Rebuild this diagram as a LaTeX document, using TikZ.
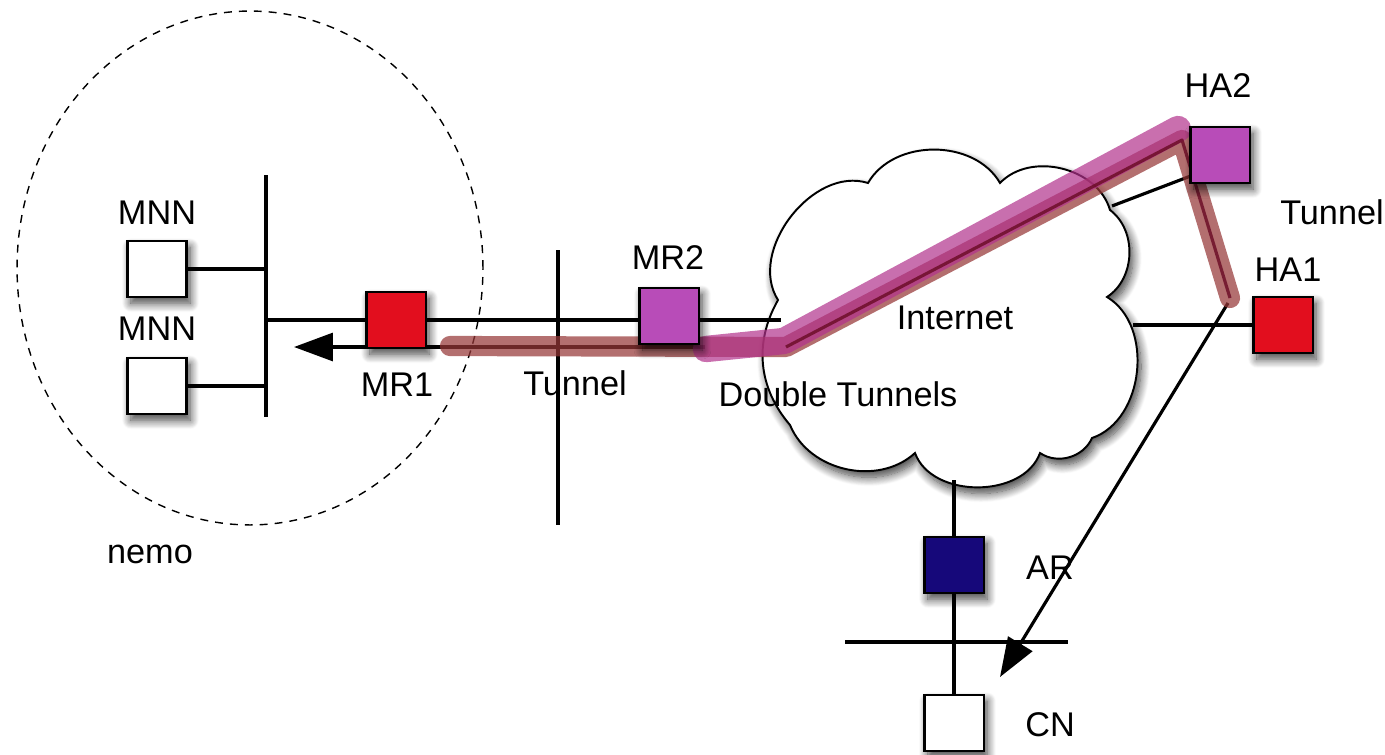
\documentclass[tikz,border=0pt]{standalone}
\usepackage{fontspec}
\setmainfont{Liberation Sans}
\usetikzlibrary{arrows.meta,shadows.blur}
\definecolor{routerred}{RGB}{226,14,30}
\definecolor{routermag}{RGB}{184,76,184}
\definecolor{accessblue}{RGB}{22,8,122}
\definecolor{tunnelbrown}{RGB}{150,55,55}
\definecolor{tunnelmag}{RGB}{178,50,140}
\definecolor{tunnelcore}{RGB}{105,10,35}
\begin{document}
\begin{tikzpicture}[x=0.02cm, y=-0.02cm,
  lbl/.style={font=\fontsize{19.5}{23}\selectfont, inner sep=0pt},
  softshadow/.style={blur shadow={shadow xshift=2pt, shadow yshift=-3.5pt,
      shadow blur radius=5pt, shadow blur steps=12, shadow opacity=75}},
  hostbox/.style={draw=black, line width=1.3pt, minimum width=1.14cm,
      minimum height=1.08cm, inner sep=0pt},
  boxface/.style={softshadow, draw=black, line width=1.3pt},
  wire/.style={draw=black, line width=1.8pt},
  thickwire/.style={draw=black, line width=2.4pt},
  bigarrow/.style={-{Triangle[length=7.8mm, width=5.6mm]}},
  tunnelwide/.style={line width=11.5pt, draw=tunnelbrown, draw opacity=0.72,
      line cap=round, line join=round},
  tunneldouble/.style={line width=15pt, draw=tunnelmag, draw opacity=0.7,
      line cap=round, line join=round},
  tunnelcoreline/.style={line width=1.8pt, draw=tunnelcore, draw opacity=0.8,
      line join=round}]
\useasboundingbox (0,0) rectangle (1385,754);

% mobile network boundary
\draw[line width=0.8pt, dash pattern=on 4.5pt off 4pt]
  (250,268) ellipse [x radius=4.66cm, y radius=5.14cm];

% fixed points of the wires
\coordinate (busTop) at (266,175);
\coordinate (busBot) at (266,417);
\coordinate (linkTop) at (558,250);
\coordinate (linkBot) at (558,525);
\coordinate (cloudW) at (781,320);
\coordinate (cloudNE) at (1112,206);
\coordinate (cloudE) at (1133,325);
\coordinate (cloudS) at (954,480);
\coordinate (lanL) at (845,642);
\coordinate (lanR) at (1068,642);
\coordinate (retStart) at (705,347);
\coordinate (retTip) at (294,347);
\coordinate (fwdStart) at (1228,303);
\coordinate (fwdTip) at (1000,677);

% the Internet cloud
\path[draw=black, line width=1.1pt, fill=white, softshadow]
  (778,300) to[bend left=70] (868,183) to[bend left=60] (1000,183)
  to[bend left=60] (1110,210) to[bend left=55] (1107,297)
  to[bend left=65] (1092,438) to[bend left=50] (1040,453)
  to[bend left=70] (915,453) to[bend left=55] (790,425)
  to[bend left=35] (778,300) -- cycle;

% node frames (their faces are painted last)
\node[hostbox, draw=none] (mnnA) at (157,269) {};
\node[hostbox, draw=none] (mnnB) at (157,386) {};
\node[hostbox, draw=none] (mrA) at (396,320) {};
\node[hostbox, draw=none] (mrB) at (669,316) {};
\node[hostbox, draw=none] (haB) at (1220,155) {};
\node[hostbox, draw=none] (haA) at (1283,325) {};
\node[hostbox, draw=none] (ar) at (954,565) {};
\node[hostbox, draw=none] (cn) at (954,723) {};

% wires
\draw[thickwire] (busTop) -- (busBot);
\draw[wire] (mnnA.east) -- (mnnA.east -| busTop);
\draw[wire] (mnnB.east) -- (mnnB.east -| busTop);
\draw[wire] (mrA.west -| busTop) -- (mrA.west);
\draw[wire] (mrA.east) -- (mrA.east -| mrB.west);
\draw[wire] (mrA.east -| mrB.east) -- (mrA.east -| cloudW);
\draw[wire] (linkTop) -- (linkBot);
\draw[wire] (cloudNE) -- ([yshift=4pt]haB.south west);
\draw[wire] (cloudE) -- (haA.west);
\draw[thickwire] (cloudS) -- (ar.north);
\draw[thickwire] (ar.south) -- (cn.north);
\draw[thickwire] (lanL) -- (lanR);
\draw[wire, bigarrow] (retStart) -- (retTip);
\draw[wire, bigarrow] (fwdStart) -- (fwdTip);

% tunnels
\draw[tunnelwide] (450,346) -- (786,347) -- (1182,140) -- (1230,298);
\draw[tunneldouble] (706,349) -- (784,341) -- (1178,129);
\draw[tunnelcoreline] (786,347) -- (1182,140) -- (1230,298);

% node faces with their shadows
\path[boxface, fill=white] (mnnA.south west) rectangle (mnnA.north east);
\path[boxface, fill=white] (mnnB.south west) rectangle (mnnB.north east);
\path[boxface, fill=routerred] (mrA.south west) rectangle (mrA.north east);
\path[boxface, fill=routermag] (mrB.south west) rectangle (mrB.north east);
\path[boxface, fill=routermag] (haB.south west) rectangle (haB.north east);
\path[boxface, fill=routerred] (haA.south west) rectangle (haA.north east);
\path[boxface, fill=accessblue] (ar.south west) rectangle (ar.north east);
\path[boxface, fill=white] (cn.south west) rectangle (cn.north east);

% labels
\node[lbl] (lMnnA) at (157,213) {MNN};
\node[lbl] (lMnnB) at (157,329) {MNN};
\node[lbl] (lMrA) at (397,385) {MR1};
\node[lbl] (lMrB) at (668,258) {MR2};
\node[lbl] (lTunA) at (575,383) {Tunnel};
\node[lbl] (lDouble) at (838,394) {Double Tunnels};
\node[lbl] (lNet) at (955,318) {Internet};
\node[lbl] (lHaB) at (1218,86) {HA2};
\node[lbl] (lTunB) at (1332,212) {Tunnel};
\node[lbl] (lHaA) at (1288,270) {HA1};
\node[lbl] (lAr) at (1050,568) {AR};
\node[lbl] (lCn) at (1050,725) {CN};
\node[lbl] (lNemo) at (150,554) {nemo};
\end{tikzpicture}
\end{document}
